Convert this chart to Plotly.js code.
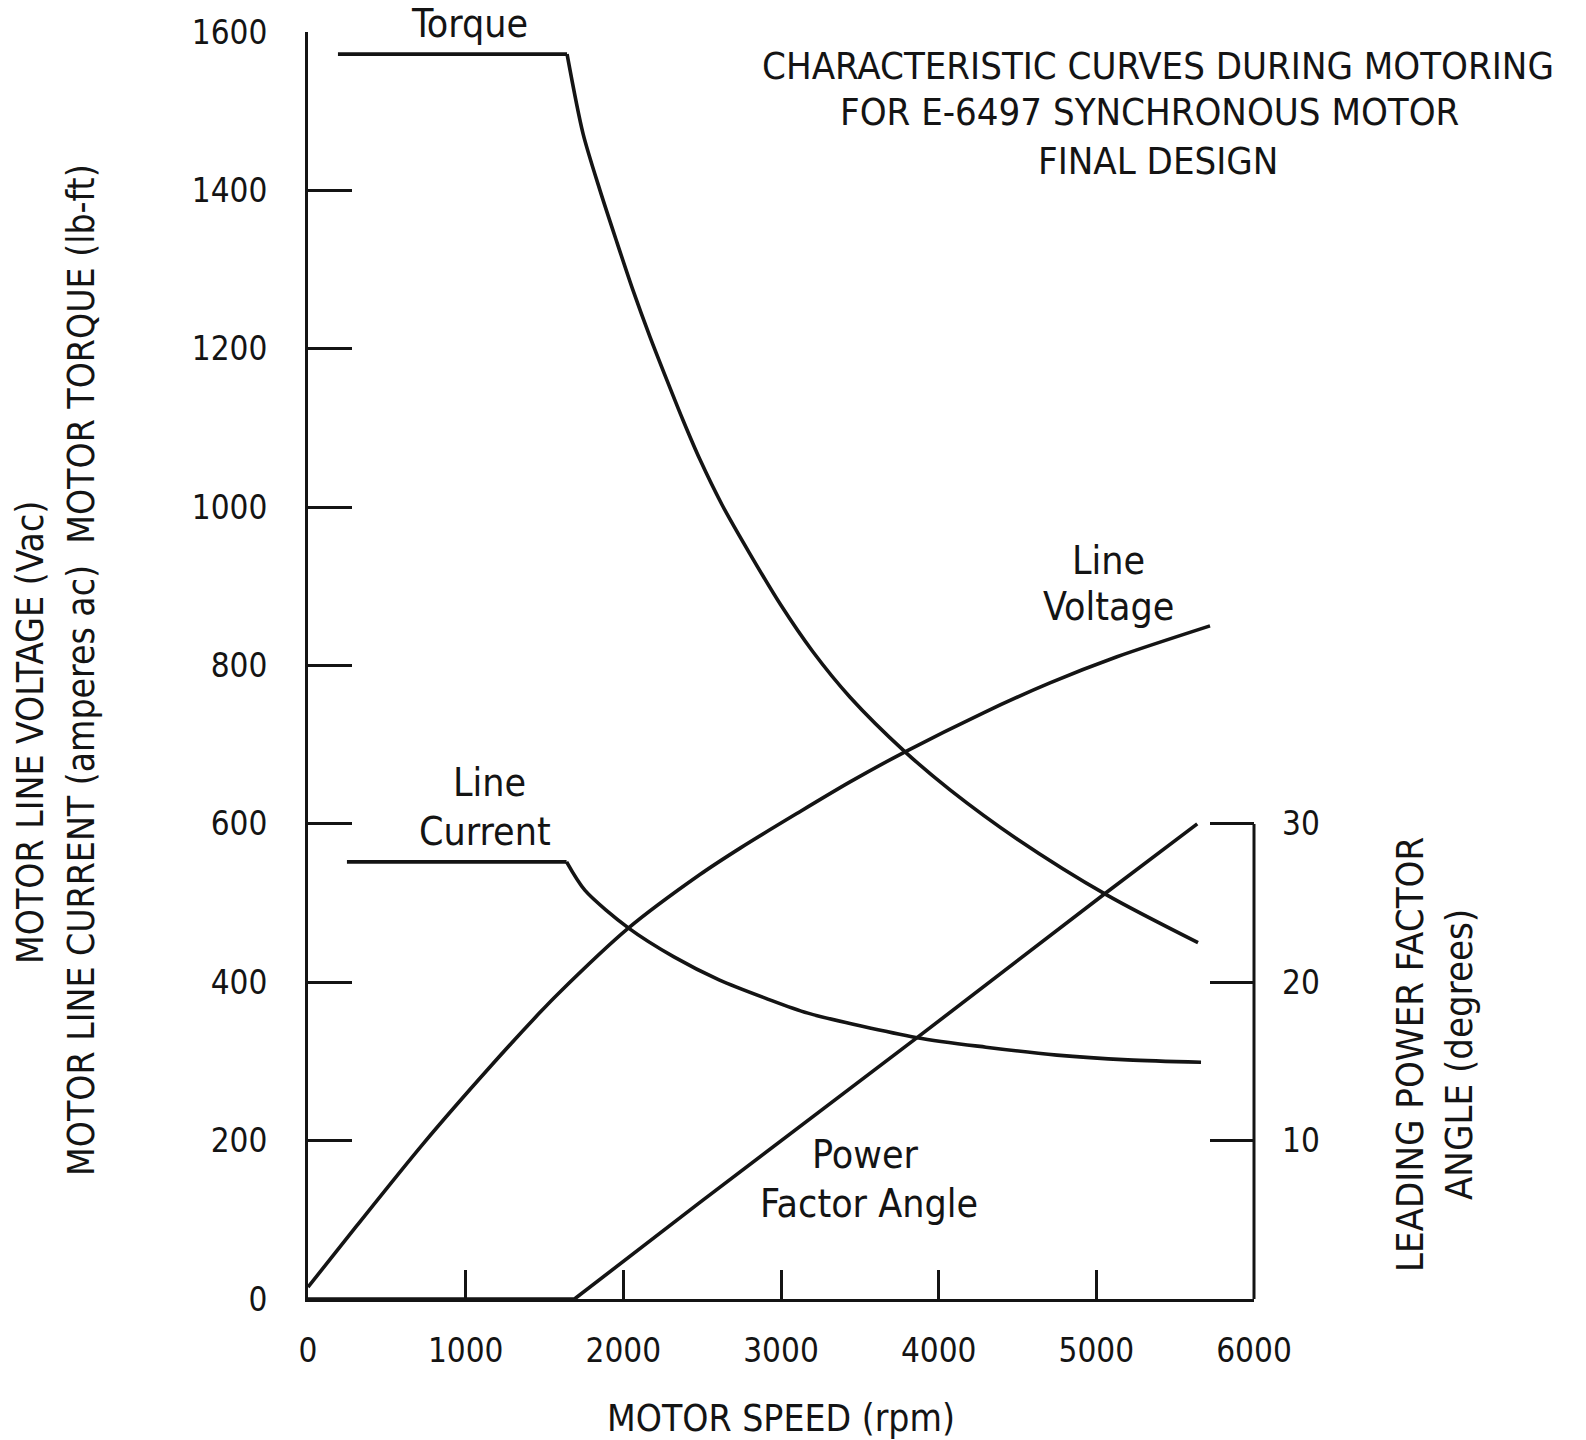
<!DOCTYPE html>
<html>
<head>
<meta charset="utf-8">
<script src="https://cdn.plot.ly/plotly-3.0.1.min.js"></script>
<style>html,body{margin:0;padding:0;background:#fff;}#chart{width:1586px;height:1440px;}</style>
</head>
<body>
<div id="chart"></div>
<script>
// Motor speed (rpm) and values
const torqueSpeed = [190, 1643, 1744, 1852, 1960, 2061, 2169, 2277, 2378, 2486, 2626, 2800, 3000, 3200, 3438, 3787, 4072, 4497, 5068, 5645];
const torqueLbFt  = [1572, 1572, 1472, 1400, 1334, 1274, 1215, 1160, 1110, 1060, 1003, 942, 876, 818, 760, 691, 643, 581, 510, 450];

const currentSpeed = [247, 1640, 1757, 2036, 2321, 2607, 2900, 3171, 3863, 4300, 4750, 5200, 5664];
const currentAmps  = [552, 552, 516, 468, 432, 403, 380, 361, 330, 318, 308, 302, 299];

const voltageSpeed = [0, 311, 730, 1154, 1472, 1579, 2030, 2486, 2746, 3100, 3438, 3787, 4281, 4706, 5131, 5721];
const voltageVac   = [15, 93, 196, 293, 362, 384, 468, 536, 570, 613, 653, 691, 740, 778, 811, 850];

const pfSpeed = [0, 1690, 2486, 3863, 5068, 5640];
const pfAngleDeg = [0, 0, 6.1, 16.5, 25.7, 30];

const speedTicks = [0, 1000, 2000, 3000, 4000, 5000, 6000];
const leftTicks = [0, 200, 400, 600, 800, 1000, 1200, 1400, 1600];
const rightTicks = [10, 20, 30];

const FONT = "'Liberation Sans Narrow', 'DejaVu Sans Condensed', 'Arial Narrow', sans-serif";
const INK = '#141414';
const straight = {color: INK, width: 3.6, shape: 'linear'};
const curved = {color: INK, width: 3.6, shape: 'spline', smoothing: 0.8};

// flat (constant) part drawn straight, the falling part drawn as a smooth curve
const traces = [
  {x: torqueSpeed.slice(0, 2), y: torqueLbFt.slice(0, 2), name: 'Torque', legendgroup: 'torque', mode: 'lines', line: straight},
  {x: torqueSpeed.slice(1), y: torqueLbFt.slice(1), name: 'Torque', legendgroup: 'torque', mode: 'lines', line: curved},
  {x: currentSpeed.slice(0, 2), y: currentAmps.slice(0, 2), name: 'Line Current', legendgroup: 'current', mode: 'lines', line: straight},
  {x: currentSpeed.slice(1), y: currentAmps.slice(1), name: 'Line Current', legendgroup: 'current', mode: 'lines', line: curved},
  {x: voltageSpeed, y: voltageVac, name: 'Line Voltage', mode: 'lines', line: curved},
  {x: pfSpeed, y: pfAngleDeg, name: 'Power Factor Angle', mode: 'lines', line: straight, yaxis: 'y2'}
];

function lab(text, x, y) {
  return {text: text, x: x, y: y, xref: 'x', yref: 'y', showarrow: false,
          xanchor: 'center', yanchor: 'middle', font: {family: FONT, size: 39, color: INK}};
}
function pap(text, x, y, size, angle) {
  return {text: text, x: x, y: y, xref: 'paper', yref: 'paper', showarrow: false,
          xanchor: 'center', yanchor: 'middle', textangle: angle || 0,
          font: {family: FONT, size: size, color: INK}};
}

const layout = {
  width: 1586, height: 1440,
  margin: {l: 308, r: 332, t: 32, b: 141},
  paper_bgcolor: '#fff', plot_bgcolor: '#fff',
  showlegend: false,
  font: {family: FONT, color: INK, size: 33},
  title: {text: 'CHARACTERISTIC CURVES DURING MOTORING', x: 1158 / 1586, xanchor: 'center',
          y: 1 - 66 / 1440, yanchor: 'middle', xref: 'container', yref: 'container',
          font: {family: FONT, size: 38, color: INK}},
  xaxis: {
    range: [0, 6000], tickvals: speedTicks, ticktext: speedTicks.map(String),
    showline: true, linecolor: INK, linewidth: 3, showgrid: false, zeroline: false,
    ticks: 'inside', ticklen: 29, tickwidth: 3, tickcolor: INK,
    ticklabelstandoff: 20, tickfont: {family: FONT, size: 33, color: INK},
    title: {text: 'MOTOR SPEED (rpm)', standoff: 42, font: {family: FONT, size: 37, color: INK}},
    automargin: false, fixedrange: true
  },
  yaxis: {
    range: [0, 1600], tickvals: leftTicks, ticktext: leftTicks.map(String),
    showline: true, linecolor: INK, linewidth: 3, showgrid: false, zeroline: false,
    ticks: 'inside', ticklen: 44, tickwidth: 3, tickcolor: INK,
    ticklabelstandoff: 31, tickfont: {family: FONT, size: 33, color: INK},
    automargin: false, fixedrange: true
  },
  yaxis2: {
    overlaying: 'y', side: 'right', range: [0, 80], tickvals: rightTicks, ticktext: rightTicks.map(String),
    showline: false, showgrid: false, zeroline: false,
    ticks: 'inside', ticklen: 44, tickwidth: 3, tickcolor: INK,
    ticklabelstandoff: 27, tickfont: {family: FONT, size: 33, color: INK},
    automargin: false, fixedrange: true
  },
  shapes: [
    {type: 'line', xref: 'paper', yref: 'y2', x0: 1, x1: 1, y0: 0, y1: 30,
     line: {color: INK, width: 3}}
  ],
  annotations: [
    pap('FOR E-6497 SYNCHRONOUS MOTOR', (1149 - 308) / 946, (1299 - 112) / 1267, 38),
    pap('FINAL DESIGN', (1158 - 308) / 946, (1299 - 161) / 1267, 38),
    pap('MOTOR LINE VOLTAGE (Vac)', (30 - 308) / 946, (1299 - 733) / 1267, 37, -90),
    pap('MOTOR LINE CURRENT (amperes ac)  MOTOR TORQUE (lb-ft)', (81 - 308) / 946, (1299 - 670) / 1267, 37, -90),
    pap('LEADING POWER FACTOR<br>ANGLE (degrees)', (1434 - 308) / 946, (1299 - 1055) / 1267, 38, -90),
    pap('Torque', (469 - 308) / 946, (1299 - 24) / 1267, 39, 0),
    lab('Line', 5074, 933),
    lab('Voltage', 5080, 874),
    lab('Line', 1148, 652),
    lab('Current', 1123, 590),
    lab('Power', 3539, 183),
    lab('Factor Angle', 3558, 120)
  ]
};

Plotly.newPlot('chart', traces, layout, {staticPlot: true, displayModeBar: false});
</script>
</body>
</html>
